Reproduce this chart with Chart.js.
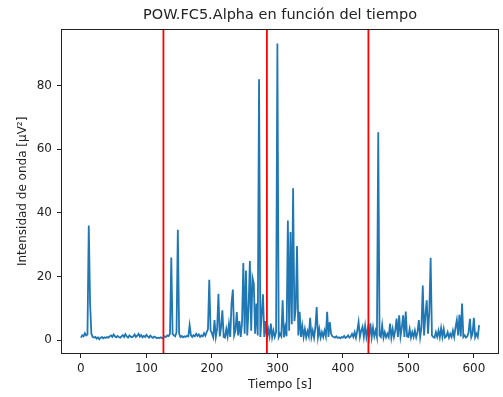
<!DOCTYPE html>
<html>
<head>
<meta charset="utf-8">
<script src="https://cdn.jsdelivr.net/npm/chart.js@4.4.1/dist/chart.umd.min.js"></script>
<style>
  html, body { margin: 0; padding: 0; background: #fff; }
  #wrap { width: 503px; height: 397px; }
</style>
</head>
<body>
<div id="wrap"><canvas id="c" width="503" height="397"></canvas></div>
<script>
// ---- data ----
const chartTitle = "POW.FC5.Alpha en función del tiempo";
const xLabel = "Tiempo [s]";
const yLabel = "Intensidad de onda [µV²]";
const sampleStep = 2;      // seconds between samples
const startTime = 0;
const alphaValues = [
  0.8,1.5,1.2,2.2,1.5,1.8,36.0,11.5,2.0,1.0,
  0.8,1.0,0.5,0.9,0.3,0.8,1.0,0.6,0.9,0.7,
  1.0,0.8,1.2,1.5,1.0,1.8,1.2,0.9,1.3,1.0,
  0.8,1.2,1.6,1.0,1.9,1.2,0.8,1.5,1.1,0.9,
  1.2,1.8,1.0,1.4,2.0,1.1,1.6,0.9,1.3,1.0,
  1.7,1.2,0.8,1.4,1.0,0.7,1.1,0.9,0.6,0.8,
  0.7,0.9,0.6,0.8,1.2,1.0,1.5,1.3,2.0,26.0,
  2.0,1.5,1.2,2.5,34.7,2.0,1.0,1.3,0.9,1.2,
  1.0,1.4,1.2,4.7,1.5,1.0,1.6,1.2,2.0,1.3,
  1.8,1.0,1.5,1.2,2.2,1.4,2.5,3.5,19.0,3.0,
  2.2,0.9,6.3,1.0,3.5,14.6,1.2,4.0,9.4,1.0,
  0.8,3.5,1.2,5.0,1.0,11.5,15.9,1.5,3.0,8.8,
  1.5,6.0,1.0,5.5,24.2,2.0,21.9,1.5,10.0,24.9,
  3.0,19.6,17.8,2.0,11.5,1.5,82.0,1.0,8.0,14.4,
  1.0,6.0,0.8,3.5,1.2,5.2,0.9,3.0,1.0,2.5,
  93.2,1.0,2.0,1.2,12.5,0.9,4.0,1.2,37.6,3.0,
  34.0,5.0,47.7,6.0,10.0,29.6,1.5,8.9,1.0,4.5,
  1.0,3.5,0.9,2.8,1.2,7.0,1.0,3.0,0.8,4.0,
  10.4,1.0,3.5,0.8,2.5,1.0,3.0,1.2,8.9,1.0,
  5.7,2.0,1.2,1.0,0.8,1.2,0.7,0.9,0.6,1.0,
  0.8,1.3,0.7,1.0,1.5,0.8,1.2,2.0,1.0,2.5,
  0.8,3.0,5.7,1.0,3.0,4.2,1.0,4.5,1.0,3.5,
  1.0,5.3,0.9,4.0,1.2,3.0,1.0,65.3,1.5,1.0,
  4.7,0.8,2.5,0.9,2.0,1.0,5.2,0.8,3.5,1.0,
  3.0,6.8,1.0,7.8,1.2,4.0,7.8,1.0,9.0,1.2,
  1.0,3.5,0.8,2.5,1.0,3.0,0.9,2.5,6.3,1.0,
  4.0,17.2,1.5,8.0,12.5,2.0,9.0,25.9,1.5,1.0,
  0.8,2.5,1.0,3.0,0.9,3.8,1.0,3.5,0.8,1.2,
  2.5,0.8,2.0,1.0,3.0,1.0,4.0,6.3,1.5,8.0,
  1.2,11.5,1.0,1.5,0.8,1.2,2.5,6.7,0.9,2.0,
  7.0,0.9,2.0,1.0,4.7
];
const markerTimes = [126, 284, 439];
const xTicks = [0, 100, 200, 300, 400, 500, 600];
const yTicks = [0, 20, 40, 60, 80];

// ---- build ----
const points = alphaValues.map((v, i) => ({ x: startTime + i * sampleStep, y: v }));
const xs = points.map(p => p.x), ys = points.map(p => p.y);
const xMinD = Math.min(...xs), xMaxD = Math.max(...xs);
const yMinD = Math.min(...ys), yMaxD = Math.max(...ys);
const xPad = (xMaxD - xMinD) * 0.05, yPad = (yMaxD - yMinD) * 0.05;

const FONT = "'DejaVu Sans', sans-serif";

const framePlugin = {
  id: 'frame',
  afterDatasetsDraw(chart) {
    const { ctx, chartArea: a, scales } = chart;
    ctx.save();
    ctx.beginPath();
    ctx.rect(a.left, a.top, a.right - a.left, a.bottom - a.top);
    ctx.clip();
    ctx.strokeStyle = '#ff0000';
    ctx.lineWidth = 1.8;
    markerTimes.forEach(t => {
      const px = scales.x.getPixelForValue(t);
      ctx.beginPath();
      ctx.moveTo(px, a.top);
      ctx.lineTo(px, a.bottom);
      ctx.stroke();
    });
    ctx.restore();
    ctx.save();
    ctx.strokeStyle = '#222';
    ctx.lineWidth = 1;
    ctx.strokeRect(Math.round(a.left) + 0.5, Math.round(a.top) + 0.5,
      Math.round(a.right - a.left) - 1, Math.round(a.bottom - a.top) - 1);
    // title centred over the axes, as matplotlib does
    ctx.fillStyle = '#222';
    ctx.font = "14.5px " + FONT;
    ctx.textAlign = 'center';
    ctx.textBaseline = 'middle';
    ctx.fillText(chartTitle, (a.left + a.right) / 2, 15);
    ctx.restore();
  }
};

new Chart(document.getElementById('c'), {
  type: 'line',
  data: {
    datasets: [{
      data: points,
      borderColor: '#1f77b4',
      borderWidth: 1.8,
      pointRadius: 0,
      tension: 0,
      fill: false
    }]
  },
  options: {
    responsive: false,
    animation: false,
    events: [],
    layout: { padding: { left: 0, right: 4, top: 28.7, bottom: 0 } },
    plugins: {
      legend: { display: false },
      tooltip: { enabled: false },
      title: { display: false }
    },
    scales: {
      x: {
        type: 'linear',
        min: xMinD - xPad,
        max: xMaxD + xPad,
        afterBuildTicks: s => { s.ticks = xTicks.map(v => ({ value: v })); },
        afterFit: s => { s.height = 43; },
        grid: { display: true, drawOnChartArea: false, drawTicks: true, tickLength: 4, color: '#222', lineWidth: 1 },
        border: { display: false },
        ticks: { color: '#222', font: { family: FONT, size: 12 }, padding: 4, maxRotation: 0, autoSkip: false },
        title: { display: true, text: xLabel, color: '#222', font: { family: FONT, size: 12 }, padding: { top: 0, bottom: 5 } }
      },
      y: {
        type: 'linear',
        min: yMinD - yPad,
        max: yMaxD + yPad,
        afterBuildTicks: s => { s.ticks = yTicks.map(v => ({ value: v })); },
        afterFit: s => { s.width = 61; },
        grid: { display: true, drawOnChartArea: false, drawTicks: true, tickLength: 4, color: '#222', lineWidth: 1 },
        border: { display: false },
        ticks: { color: '#222', font: { family: FONT, size: 12 }, padding: 5, autoSkip: false },
        title: { display: true, text: yLabel, color: '#222', font: { family: FONT, size: 12 }, padding: { top: 16, bottom: 0 } }
      }
    }
  },
  plugins: [framePlugin]
});
</script>
</body>
</html>
